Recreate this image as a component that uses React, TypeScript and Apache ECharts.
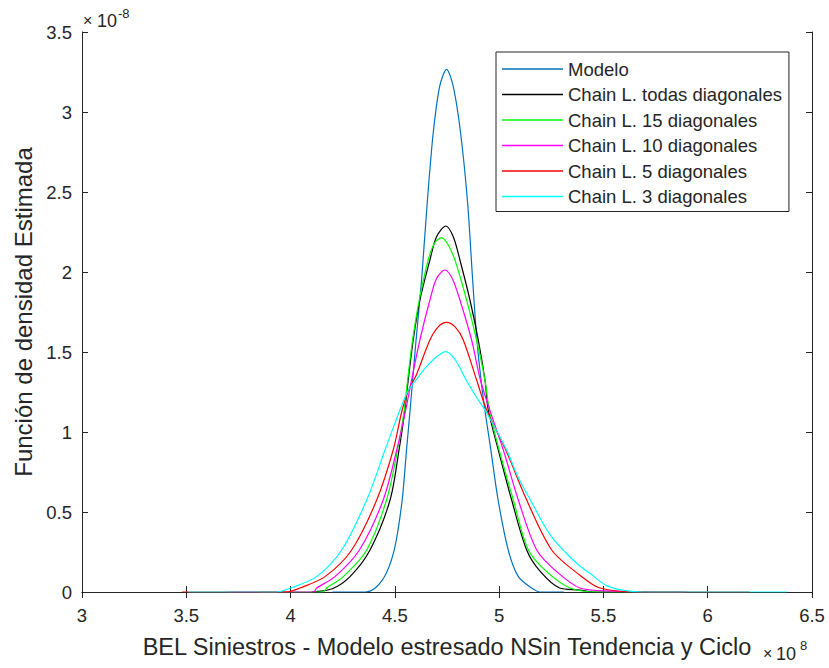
import React, { useEffect, useRef } from "react";
import * as echarts from "echarts";

// Kernel density estimates: x in units of 1e8, density in units of 1e-8
const seriesNames = [
  "Modelo",
  "Chain L. todas diagonales",
  "Chain L. 15 diagonales",
  "Chain L. 10 diagonales",
  "Chain L. 5 diagonales",
  "Chain L. 3 diagonales",
];

const xModelo = [4.2, 4.357, 4.41, 4.46, 4.5, 4.535, 4.556, 4.572, 4.6, 4.628, 4.655, 4.684, 4.715, 4.748, 4.78, 4.815, 4.849, 4.873, 4.895, 4.925, 4.96, 4.995, 5.044, 5.092, 5.156, 5.196, 5.31];
const yModelo = [0, 0, 0.03, 0.12, 0.28, 0.575, 0.89, 1.12, 1.55, 1.95, 2.43, 2.87, 3.16, 3.267, 3.16, 2.87, 2.43, 1.95, 1.55, 1.2, 0.89, 0.575, 0.26, 0.096, 0.025, 0, 0];

const xTodas = [4.1, 4.2, 4.285, 4.381, 4.477, 4.52, 4.548, 4.564, 4.588, 4.62, 4.668, 4.7, 4.745, 4.78, 4.812, 4.86, 4.9, 4.932, 4.948, 4.996, 5.06, 5.132, 5.196, 5.29, 5.387, 5.45, 5.72];
const yTodas = [0, 0.02, 0.096, 0.2625, 0.575, 0.8875, 1.1375, 1.325, 1.575, 1.825, 2.075, 2.22, 2.2875, 2.22, 2.075, 1.825, 1.575, 1.325, 1.1375, 0.8875, 0.575, 0.2625, 0.13, 0.025, 0.0125, 0, 0];

const x15 = [3.85, 4.155, 4.173, 4.253, 4.365, 4.46, 4.513, 4.545, 4.561, 4.585, 4.617, 4.66, 4.69, 4.724, 4.755, 4.788, 4.844, 4.892, 4.932, 4.953, 5.0, 5.068, 5.14, 5.228, 5.34, 5.47, 5.88];
const y15 = [0, 0, 0.025, 0.096, 0.2625, 0.575, 0.8875, 1.1375, 1.325, 1.575, 1.825, 2.075, 2.18, 2.215, 2.17, 2.075, 1.825, 1.575, 1.325, 1.1375, 0.8875, 0.575, 0.2625, 0.127, 0.025, 0, 0];

const x10 = [3.7, 4.11, 4.125, 4.213, 4.33, 4.444, 4.509, 4.552, 4.58, 4.62, 4.668, 4.7, 4.74, 4.775, 4.812, 4.868, 4.91, 4.955, 5.02, 5.092, 5.18, 5.276, 5.387, 5.55, 5.66, 5.9];
const y10 = [0, 0, 0.025, 0.096, 0.2625, 0.575, 0.8875, 1.1375, 1.325, 1.575, 1.825, 1.96, 2.0125, 1.96, 1.825, 1.575, 1.325, 1.1375, 0.8875, 0.575, 0.2625, 0.127, 0.025, 0.005, 0, 0];

const x5 = [3.48, 3.98, 4.045, 4.165, 4.293, 4.413, 4.492, 4.535, 4.565, 4.604, 4.668, 4.71, 4.748, 4.79, 4.828, 4.892, 4.94, 5.032, 5.132, 5.252, 5.387, 5.483, 5.675, 6.2];
const y5 = [0, 0, 0.025, 0.096, 0.2625, 0.575, 0.8875, 1.1375, 1.26, 1.36, 1.575, 1.66, 1.685, 1.655, 1.575, 1.325, 1.1375, 0.8875, 0.575, 0.2625, 0.105, 0.025, 0, 0];

const x3 = [3.51, 3.93, 4.0, 4.125, 4.245, 4.365, 4.453, 4.5, 4.564, 4.61, 4.652, 4.7, 4.745, 4.79, 4.84, 4.89, 4.94, 5.036, 5.09, 5.156, 5.21, 5.26, 5.316, 5.38, 5.435, 5.515, 5.6, 5.69, 6.38];
const y3 = [0, 0, 0.025, 0.096, 0.2625, 0.575, 0.8875, 1.054, 1.26, 1.34, 1.408, 1.47, 1.502, 1.45, 1.33, 1.22, 1.12, 0.8875, 0.72, 0.56, 0.43, 0.33, 0.25, 0.17, 0.117, 0.04, 0.01, 0, 0];

const seriesX = [xModelo, xTodas, x15, x10, x5, x3];
const seriesY = [yModelo, yTodas, y15, y10, y5, y3];
const seriesColors = ["#0072bd", "#000000", "#00ff00", "#ff00ff", "#ff0000", "#00ffff"];

const axisColor = "#262626";
const fontFamily = "'Liberation Sans', Arial, Helvetica, sans-serif";

export default function App() {
  const ref = useRef<HTMLDivElement>(null);

  useEffect(() => {
    if (!ref.current) return;
    const chart = echarts.init(ref.current, undefined, { renderer: "svg" });

    const axisCommon = {
      type: "value" as const,
      axisLine: { show: true, lineStyle: { color: axisColor, width: 1 } },
      axisTick: { show: true, inside: true, length: 6, lineStyle: { color: axisColor } },
      splitLine: { show: false },
    };

    chart.setOption({
      animation: false,
      backgroundColor: "#ffffff",
      textStyle: { fontFamily },
      grid: { left: 82, right: 17, top: 32, bottom: 76, containLabel: false },
      xAxis: [
        {
          ...axisCommon,
          position: "bottom",
          min: 3,
          max: 6.5,
          interval: 0.5,
          axisLabel: { color: axisColor, fontSize: 18.5, margin: 14, fontFamily },
          name: "BEL Siniestros - Modelo estresado NSin Tendencia y Ciclo",
          nameLocation: "middle",
          nameGap: 43,
          nameTextStyle: { color: axisColor, fontSize: 23.5, fontFamily },
        },
        {
          ...axisCommon,
          position: "top",
          min: 3,
          max: 6.5,
          interval: 0.5,
          axisLabel: { show: false },
        },
      ],
      yAxis: [
        {
          ...axisCommon,
          position: "left",
          min: 0,
          max: 3.5,
          interval: 0.5,
          axisLabel: { color: axisColor, fontSize: 18.5, margin: 10, fontFamily },
          name: "Función de densidad Estimada",
          nameLocation: "middle",
          nameGap: 46,
          nameTextStyle: { color: axisColor, fontSize: 24, fontFamily },
        },
        {
          ...axisCommon,
          position: "right",
          min: 0,
          max: 3.5,
          interval: 0.5,
          axisLabel: { show: false },
        },
      ],
      legend: {
        orient: "vertical",
        left: 496,
        top: 52,
        padding: [7, 7, 5, 6],
        icon: "rect",
        itemWidth: 61,
        itemHeight: 1.4,
        itemGap: 5.5,
        borderColor: axisColor,
        borderWidth: 1,
        backgroundColor: "#ffffff",
        textStyle: { color: axisColor, fontSize: 18.5, lineHeight: 20, fontFamily },
        data: seriesNames,
      },
      graphic: [
        {
          type: "text",
          x: 83,
          y: 12,
          style: { text: "×", font: `16px ${fontFamily}`, fill: axisColor },
        },
        {
          type: "text",
          x: 97,
          y: 12,
          style: { text: "10", font: `18px ${fontFamily}`, fill: axisColor },
        },
        {
          type: "text",
          x: 118,
          y: 7,
          style: { text: "-8", font: `13px ${fontFamily}`, fill: axisColor },
        },
        {
          type: "text",
          x: 763,
          y: 645,
          style: { text: "×", font: `16px ${fontFamily}`, fill: axisColor },
        },
        {
          type: "text",
          x: 776,
          y: 645,
          style: { text: "10", font: `18px ${fontFamily}`, fill: axisColor },
        },
        {
          type: "text",
          x: 800,
          y: 639,
          style: { text: "8", font: `13px ${fontFamily}`, fill: axisColor },
        },
      ],
      series: seriesNames.map((name, i) => ({
        name,
        type: "line",
        xAxisIndex: 0,
        yAxisIndex: 0,
        symbol: "none",
        smooth: 0.3,
        lineStyle: { color: seriesColors[i], width: 1.2 },
        itemStyle: { color: seriesColors[i] },
        data: seriesX[i].map((x, j) => [x, seriesY[i][j]]),
      })),
    });

    return () => chart.dispose();
  }, []);

  return <div ref={ref} style={{ width: 829, height: 668, position: "absolute", left: 0, top: 0 }} />;
}
